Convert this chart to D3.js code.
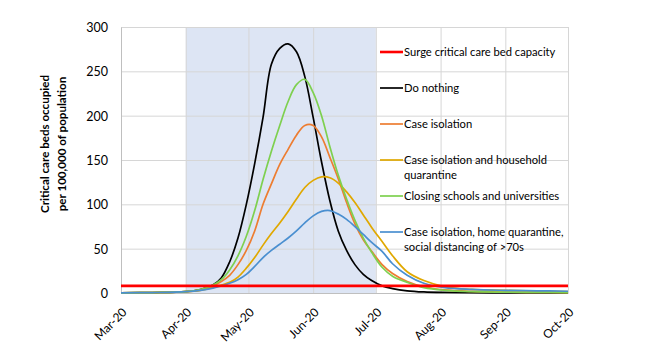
<!DOCTYPE html>
<html>
<head>
<meta charset="utf-8">
<script src="https://cdn.jsdelivr.net/npm/d3@7"></script>
<style>
  body { margin: 0; background: #fff; }
  text { font-family: Lato, "Liberation Sans", sans-serif; fill: #000; }
</style>
</head>
<body>
<div id="chart"></div>
<script>
// Chart data
var dates = ["2020-03-01", "2020-03-16", "2020-04-01", "2020-04-08", "2020-04-14", "2020-04-18",
    "2020-04-22", "2020-04-26", "2020-04-30", "2020-05-04", "2020-05-08", "2020-05-12",
    "2020-05-16", "2020-05-20", "2020-05-24", "2020-05-28", "2020-06-01", "2020-06-05",
    "2020-06-09", "2020-06-13", "2020-06-17", "2020-06-21", "2020-06-25", "2020-06-29",
    "2020-07-04", "2020-07-09", "2020-07-16", "2020-07-24", "2020-08-03", "2020-08-16",
    "2020-09-01", "2020-09-16", "2020-10-01"];

var doNothing = [0.2, 0.5, 1.5, 4, 9, 17, 35, 62, 100, 146, 198, 258, 276, 281, 272, 244, 198, 148,
    104, 70, 48, 32, 21, 14, 8, 5, 2.5, 1.2, 0.6, 0.3, 0.2, 0.1, 0.1];
var caseIsolation = [0.2, 0.5, 1.5, 3.5, 8, 13, 20, 32, 48, 70, 100, 123, 145, 162, 178, 189, 189, 176,
    153, 129, 102, 78, 60, 47, 32, 22, 13, 7, 3.5, 1.8, 1, 0.7, 0.5];
var householdQuarantine = [0.2, 0.5, 1.5, 3, 6, 9, 12, 18, 28, 40, 54, 67, 79, 92, 106, 119, 127, 131,
    130, 124, 114, 102, 88, 74, 58, 42, 24, 14, 7, 4, 3, 2, 1.5];
var closingSchools = [0.2, 0.5, 1.5, 4, 9, 15, 26, 42, 64, 93, 128, 160, 189, 216, 235, 241, 226, 200,
    165, 133, 106, 82, 62, 46, 29, 19, 12, 6, 3, 1.5, 1, 0.7, 0.5];
var homeQuarantineDistancing = [0.2, 0.5, 1.5, 3, 5.5, 8, 11, 15, 21, 30, 40, 48, 55, 62, 70, 79, 87, 92,
    93, 89, 83, 75, 66, 57, 47, 33, 20, 11, 6, 4, 3, 2.5, 2];
var surgeCapacity = 8;

var seriesNames = ["Surge critical care bed capacity", "Do nothing", "Case isolation",
    "Case isolation and household|quarantine", "Closing schools and universities",
    "Case isolation, home quarantine,|social distancing of >70s"];
var seriesColors = ["#ff0000", "#000000", "#ed7d31", "#e0a800", "#7ed04f", "#4a8fd0"];

var monthTicks = ["2020-03-01", "2020-04-01", "2020-05-01", "2020-06-01", "2020-07-01",
    "2020-08-01", "2020-09-01", "2020-10-01"];
var yTicks = [0, 50, 100, 150, 200, 250, 300];
var shadedPeriod = ["2020-04-01", "2020-07-01"];

// SVG area
var svgWidth = 646;
var svgHeight = 352;
var margin = { top: 27, right: 78, bottom: 59, left: 121 };
var width = svgWidth - margin.left - margin.right;
var height = svgHeight - margin.top - margin.bottom;

var parseDate = d3.timeParse("%Y-%m-%d");

var svg = d3.select("#chart")
    .append("svg")
    .attr("width", svgWidth)
    .attr("height", svgHeight);

var chartGroup = svg.append("g")
    .attr("transform", `translate(${margin.left}, ${margin.top})`);

// Scales
var xScale = d3.scaleTime()
    .domain([parseDate("2020-03-01"), parseDate("2020-10-01")])
    .range([0, width]);
var yScale = d3.scaleLinear()
    .domain([0, 300])
    .range([height, 0]);

// Shaded intervention period
chartGroup.append("rect")
    .attr("x", xScale(parseDate(shadedPeriod[0])))
    .attr("y", 0)
    .attr("width", xScale(parseDate(shadedPeriod[1])) - xScale(parseDate(shadedPeriod[0])))
    .attr("height", height)
    .attr("fill", "#dde5f4");

// Gridlines
chartGroup.append("g")
    .call(d3.axisLeft(yScale).tickValues(yTicks.slice(1)).tickSize(-width).tickFormat(""))
    .call(g => g.select(".domain").remove())
    .selectAll("line").attr("stroke", "#d6d6d6");
chartGroup.append("g")
    .attr("transform", `translate(0, ${height})`)
    .call(d3.axisBottom(xScale).tickValues(monthTicks.slice(1).map(parseDate)).tickSize(-height).tickFormat(""))
    .call(g => g.select(".domain").remove())
    .selectAll("line").attr("stroke", "#d6d6d6");

// Axes
var yAxis = chartGroup.append("g")
    .call(d3.axisLeft(yScale).tickValues(yTicks).tickSize(0).tickPadding(13));
yAxis.select(".domain").attr("stroke", "#bfbfbf");
yAxis.selectAll("text").style("font-size", "12.5px").attr("dy", "0.35em");

var xAxis = chartGroup.append("g")
    .attr("transform", `translate(0, ${height})`)
    .call(d3.axisBottom(xScale).tickValues(monthTicks.map(parseDate)).tickSize(0)
        .tickFormat(d3.timeFormat("%b-%y")));
xAxis.select(".domain").attr("stroke", "#bfbfbf");
xAxis.selectAll("text")
    .style("font-size", "12px")
    .attr("text-anchor", "end")
    .attr("dy", 0)
    .attr("y", 0)
    .attr("transform", "translate(6, 20) rotate(-45)");

// Lines
var lineData = [doNothing, caseIsolation, householdQuarantine, closingSchools, homeQuarantineDistancing];
var line = d3.line()
    .x((d, i) => xScale(parseDate(dates[i])))
    .y(d => yScale(d))
    .curve(d3.curveCatmullRom.alpha(0.5));

chartGroup.selectAll(".series")
    .data(lineData)
    .enter()
    .append("path")
    .attr("class", "series")
    .attr("d", d => line(d))
    .attr("fill", "none")
    .attr("stroke", (d, i) => seriesColors[i + 1])
    .attr("stroke-width", 1.7);

// Surge capacity line
chartGroup.append("line")
    .attr("x1", 0)
    .attr("x2", width)
    .attr("y1", yScale(surgeCapacity))
    .attr("y2", yScale(surgeCapacity))
    .attr("stroke", seriesColors[0])
    .attr("stroke-width", 2.6);

// Legend
var legend = chartGroup.selectAll(".legend")
    .data(seriesNames)
    .enter()
    .append("g")
    .attr("class", "legend")
    .attr("transform", (d, i) => `translate(${380 - margin.left}, ${52 - margin.top + i * 36})`);

legend.append("line")
    .attr("x1", 0)
    .attr("x2", 23)
    .attr("stroke", (d, i) => seriesColors[i])
    .attr("stroke-width", (d, i) => i == 0 ? 2.6 : 1.7);

legend.append("text")
    .attr("x", 24)
    .style("font-size", "11.2px")
    .selectAll("tspan")
    .data(d => d.split("|"))
    .enter()
    .append("tspan")
    .attr("x", 24)
    .attr("y", (d, i) => i * 15)
    .attr("dy", "0.35em")
    .text(d => d);

// Y axis title
var yTitle = svg.append("text")
    .attr("transform", "translate(45, 144) rotate(-90)")
    .attr("text-anchor", "middle")
    .style("font-size", "11.6px")
    .style("font-weight", "bold");
yTitle.append("tspan").attr("x", 0).attr("dy", "0.35em").text("Critical care beds occupied");
yTitle.append("tspan").attr("x", 0).attr("dy", 17).text("per 100,000 of population");
</script>
</body>
</html>
